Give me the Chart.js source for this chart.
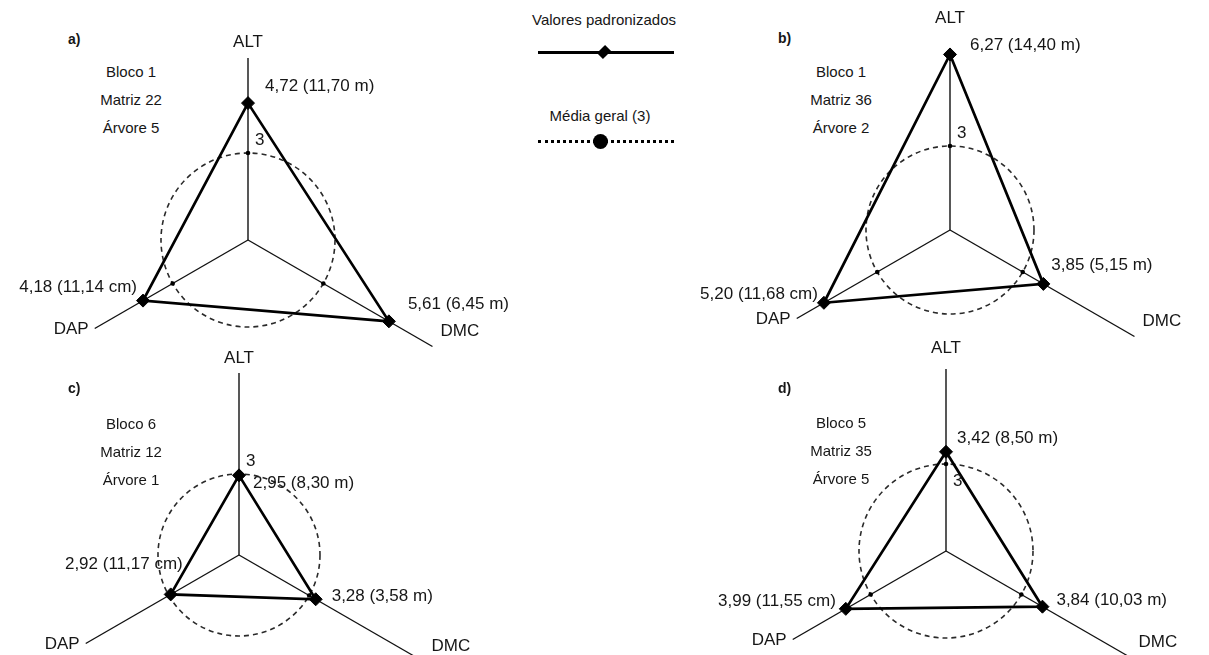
<!DOCTYPE html>
<html>
<head>
<meta charset="utf-8">
<script src="https://cdn.jsdelivr.net/npm/chart.js@4.4.1/dist/chart.umd.min.js"></script>
<style>
  body { margin: 0; background: #fff; font-family: "Liberation Sans", Arial, sans-serif; color: #161616; }
  #page { position: relative; width: 1209px; height: 655px; overflow: hidden; }
  #page canvas { position: absolute; }
  .tag { position: absolute; font-size: 14px; font-weight: bold; line-height: 14px; }
  .info { position: absolute; width: 120px; text-align: center; font-size: 15px; line-height: 28px; }
  .lg-text { position: absolute; width: 200px; text-align: center; font-size: 15px; line-height: 16px; }
  .lg-line { position: absolute; left: 538px; width: 136px; height: 3px; background: #000; }
  .lg-dots { position: absolute; left: 538px; width: 136px; height: 0; border-top: 3px dotted #000; }
  .lg-diamond { position: absolute; width: 10px; height: 10px; background: #000; transform: rotate(45deg) scale(0.85, 1.15); }
  .lg-circle { position: absolute; width: 15px; height: 15px; border-radius: 50%; background: #000; }
</style>
</head>
<body>
<div id="page">
  <div class="lg-text" style="left:504px; top:12px;">Valores padronizados</div>
  <div class="lg-line" style="top:51px;"></div>
  <div class="lg-diamond" style="left:599px; top:47px;"></div>
  <div class="lg-text" style="left:500px; top:108px;">Média geral (3)</div>
  <div class="lg-dots" style="top:140px;"></div>
  <div class="lg-circle" style="left:593px; top:134px;"></div>
</div>
<script>
// axes of each radar
const axisNames = ['ALT', 'DMC', 'DAP'];
const axisUnits = ['m', 'm', 'cm'];

// panel identification
const panelTags = ['a)', 'b)', 'c)', 'd)'];
const blocos = ['Bloco 1', 'Bloco 1', 'Bloco 6', 'Bloco 5'];
const matrizes = ['Matriz 22', 'Matriz 36', 'Matriz 12', 'Matriz 35'];
const arvores = ['Árvore 5', 'Árvore 2', 'Árvore 1', 'Árvore 5'];

// standardized values [ALT, DMC, DAP] per panel
const padronizados = [
  [4.72, 5.61, 4.18],
  [6.27, 3.85, 5.20],
  [2.95, 3.28, 2.92],
  [3.42, 3.84, 3.99]
];
// original measurements [ALT, DMC, DAP] per panel
const originais = [
  [11.70, 6.45, 11.14],
  [14.40, 5.15, 11.68],
  [8.30, 3.58, 11.17],
  [8.50, 10.03, 11.55]
];
const mediaGeral = [3, 3, 3];

// layout only: centre, pixels per unit, text placement
const panels = [
  { cx: 248, cy: 240, unit: 29, altDist: 198, tagX: 68, tagY: 32, infoX: 71, infoY: 58, meanBelow: false,
    offs: [[17, -17], [19, -17], [-6, -13]] },
  { cx: 950, cy: 230, unit: 28, altDist: 212, tagX: 778, tagY: 31, infoX: 781, infoY: 58, meanBelow: false,
    offs: [[20, -9], [8, -19], [-6, -8]] },
  { cx: 239, cy: 555, unit: 27, altDist: 197, tagX: 68, tagY: 381, infoX: 71, infoY: 410, meanBelow: false,
    offs: [[14, 8], [16, -3], [12, -30]] },
  { cx: 946, cy: 551, unit: 29, altDist: 203, tagX: 778, tagY: 381, infoX: 781, infoY: 409, meanBelow: true,
    offs: [[11, -14], [14, -6], [-10, -8]] }
];
const axisLen = [182, 213, 177];
const SIZE = 600, R = 200;
const FONT = '"Liberation Sans", Arial, sans-serif';

const fmt = v => v.toFixed(2).replace('.', ',');

const radarText = {
  id: 'radarText',
  beforeDatasetsDraw(chart) {
    const r = chart.scales.r, ctx = chart.ctx;
    ctx.save();
    ctx.strokeStyle = '#111';
    ctx.lineWidth = 1.4;
    axisLen.forEach((len, i) => {
      const end = r.getPointPosition(i, len);
      ctx.beginPath();
      ctx.moveTo(r.xCenter, r.yCenter);
      ctx.lineTo(end.x, end.y);
      ctx.stroke();
    });
    ctx.restore();
  },
  afterDatasetsDraw(chart, args, opts) {
    const p = opts.panel;
    const lay = panels[p];
    const r = chart.scales.r, ctx = chart.ctx;
    ctx.save();
    ctx.fillStyle = '#161616';
    ctx.font = '17px ' + FONT;
    ctx.textBaseline = 'middle';

    // axis names
    let pos = r.getPointPosition(0, lay.altDist);
    ctx.textAlign = 'center';
    ctx.fillText(axisNames[0], pos.x, pos.y);
    pos = r.getPointPosition(1, axisLen[1]);
    ctx.textAlign = 'left';
    ctx.fillText(axisNames[1], pos.x + 8, pos.y - 15);
    pos = r.getPointPosition(2, axisLen[2]);
    ctx.textAlign = 'right';
    ctx.fillText(axisNames[2], pos.x - 6, pos.y + 1);

    // value labels
    const aligns = ['left', 'left', 'right'];
    padronizados[p].forEach((v, i) => {
      const pt = r.getPointPositionForValue(i, v);
      ctx.textAlign = aligns[i];
      ctx.fillText(fmt(v) + ' (' + fmt(originais[p][i]) + ' ' + axisUnits[i] + ')',
        pt.x + lay.offs[i][0], pt.y + lay.offs[i][1]);
    });

    // mean label on ALT axis
    const m = r.getPointPositionForValue(0, mediaGeral[0]);
    ctx.textAlign = 'left';
    ctx.fillText(String(mediaGeral[0]), m.x + 7, m.y + (lay.meanBelow ? 17 : -13));
    ctx.restore();
  }
};

const page = document.getElementById('page');

function buildPanel(p) {
  const lay = panels[p];

  const tag = document.createElement('div');
  tag.className = 'tag';
  tag.style.left = lay.tagX + 'px';
  tag.style.top = lay.tagY + 'px';
  tag.textContent = panelTags[p];
  page.appendChild(tag);

  const info = document.createElement('div');
  info.className = 'info';
  info.style.left = lay.infoX + 'px';
  info.style.top = lay.infoY + 'px';
  info.innerHTML = blocos[p] + '<br>' + matrizes[p] + '<br>' + arvores[p];
  page.appendChild(info);

  const canvas = document.createElement('canvas');
  canvas.width = SIZE;
  canvas.height = SIZE;
  canvas.style.left = (lay.cx - SIZE / 2) + 'px';
  canvas.style.top = (lay.cy - SIZE / 2) + 'px';
  page.appendChild(canvas);

  new Chart(canvas, {
    type: 'radar',
    data: {
      labels: axisNames,
      datasets: [
        {
          label: 'Valores padronizados',
          data: padronizados[p],
          borderColor: '#000',
          borderWidth: 2.7,
          backgroundColor: '#000',
          fill: false,
          tension: 0,
          pointStyle: 'rectRot',
          pointRadius: 6.5,
          pointBackgroundColor: '#000',
          pointBorderColor: '#000',
          pointBorderWidth: 1
        },
        {
          label: 'Média geral (3)',
          data: mediaGeral,
          showLine: false,
          fill: false,
          borderColor: 'rgba(0,0,0,0)',
          borderWidth: 0,
          pointStyle: 'circle',
          pointRadius: 2.3,
          pointBackgroundColor: '#000',
          pointBorderWidth: 0
        }
      ]
    },
    options: {
      responsive: false,
      animation: false,
      devicePixelRatio: 1,
      layout: { padding: SIZE / 2 - R },
      plugins: {
        legend: { display: false },
        tooltip: { enabled: false },
        radarText: { panel: p }
      },
      scales: {
        r: {
          min: 0,
          max: R / lay.unit,
          startAngle: 0,
          angleLines: { display: false },
          pointLabels: { display: false },
          ticks: { display: false, stepSize: 1 },
          grid: {
            circular: true,
            color: c => (c.tick && c.tick.value === 3) ? '#2a2a2a' : 'rgba(0,0,0,0)',
            lineWidth: 1.6,
            borderDash: [5, 4]
          },
          border: { dash: [5, 4] }
        }
      }
    },
    plugins: [radarText]
  });
}

panels.forEach((_, p) => buildPanel(p));
</script>
</body>
</html>
